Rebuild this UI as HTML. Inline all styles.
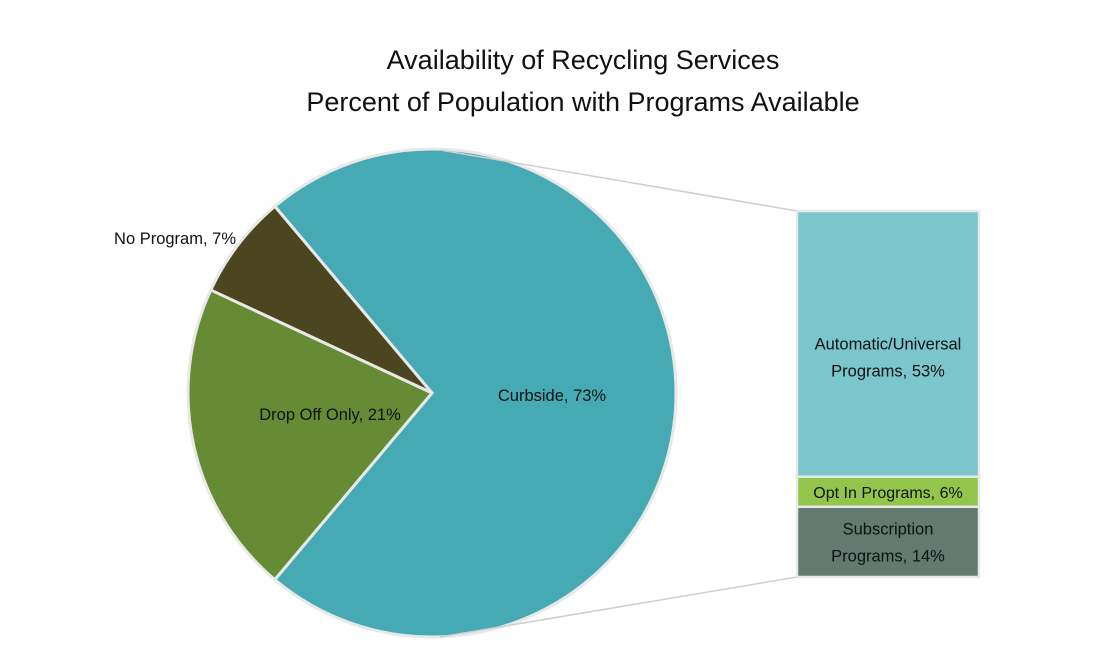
<!DOCTYPE html>
<html><head><meta charset="utf-8"><style>
body{margin:0;background:#fff;}
svg{display:block;font-family:"Liberation Sans",sans-serif;}
</style></head><body>
<svg width="1094" height="650" viewBox="0 0 1094 650">
<text x="583" y="69" font-size="27" text-anchor="middle" fill="#111">Availability of Recycling Services</text>
<text x="583" y="111" font-size="27" text-anchor="middle" fill="#111">Percent of Population with Programs Available</text>
<g id="pie"></g>
<g id="bar"></g>
</svg>
<script>
const pieLabels = ["Curbside, 73%", "No Program, 7%", "Drop Off Only, 21%"];
const pieValues = [73, 7, 21];
const barLabels = [["Automatic/Universal","Programs, 53%"], ["Opt In Programs, 6%"], ["Subscription","Programs, 14%"]];
const barValues = [53, 6, 14];
const pieColors = ["#45aab3", "#4b4520", "#668b35"];
const barColors = ["#7ac6cc", "#93c54b", "#627a70"];
const NS = "http://www.w3.org/2000/svg";
const cx = 432, cy = 393, r = 244;
const pie = document.getElementById('pie'), bar = document.getElementById('bar');
const total = pieValues.reduce((a,b)=>a+b,0);
function pt(a, rr){ return [cx + rr*Math.cos(a), cy - rr*Math.sin(a)]; }
let start = -pieValues[0]/total*Math.PI;
pieValues.forEach((v,i)=>{
  const sweep = v/total*2*Math.PI;
  const a0 = start, a1 = start + sweep;
  const p0 = pt(a0,r), p1 = pt(a1,r);
  const large = sweep > Math.PI ? 1 : 0;
  const path = document.createElementNS(NS,'path');
  path.setAttribute('d', `M${cx},${cy} L${p0[0]},${p0[1]} A${r},${r} 0 ${large} 0 ${p1[0]},${p1[1]} Z`);
  path.setAttribute('fill', pieColors[i]);
  path.setAttribute('stroke', '#e8e8e8');
  path.setAttribute('stroke-width', '3');
  
  
  pie.appendChild(path);
  start = a1;
});
const lp = [[552,401,'middle'],[236,244,'end'],[330,420,'middle']];
pieLabels.forEach((l,i)=>{
  const t = document.createElementNS(NS,'text');
  t.setAttribute('x', lp[i][0]); t.setAttribute('y', lp[i][1]);
  t.setAttribute('text-anchor', lp[i][2]);
  t.setAttribute('font-size','16.5'); t.setAttribute('fill','#111');
  t.textContent = l;
  
  
  pie.appendChild(t);
});
const bx = 797, bw = 182, btop = 211, bh = 366;
const bsum = barValues.reduce((a,b)=>a+b,0);
let y = btop;
const l1 = document.createElementNS(NS,'line');
l1.setAttribute('x1', 440); l1.setAttribute('y1', 150); l1.setAttribute('x2', bx); l1.setAttribute('y2', btop);
l1.setAttribute('stroke','#cfcfcf'); l1.setAttribute('stroke-width','1.5');


bar.appendChild(l1);
const l2 = document.createElementNS(NS,'line');
l2.setAttribute('x1', 440); l2.setAttribute('y1', 637); l2.setAttribute('x2', bx); l2.setAttribute('y2', btop+bh);
l2.setAttribute('stroke','#cfcfcf'); l2.setAttribute('stroke-width','1.5');


bar.appendChild(l2);
barValues.forEach((v,i)=>{
  const h = v/bsum*bh;
  const rect = document.createElementNS(NS,'rect');
  rect.setAttribute('x', bx); rect.setAttribute('y', y); rect.setAttribute('width', bw); rect.setAttribute('height', h);
  rect.setAttribute('fill', barColors[i]); rect.setAttribute('stroke','#e8e8e8'); rect.setAttribute('stroke-width','2.5');
  
  
  bar.appendChild(rect);
  const lines = barLabels[i];
  const my = y + (i===0 ? h*0.55 : h/2);
  lines.forEach((ln,j)=>{
    const t = document.createElementNS(NS,'text');
    t.setAttribute('x', bx + bw/2);
    t.setAttribute('y', my + (j - (lines.length-1)/2)*27 + 6);
    t.setAttribute('text-anchor','middle'); t.setAttribute('font-size', i===1 ? '16' : '16.5'); t.setAttribute('fill','#111');
    t.textContent = ln;
    
    
    bar.appendChild(t);
  });
  y += h;
});
</script>
</body></html>
